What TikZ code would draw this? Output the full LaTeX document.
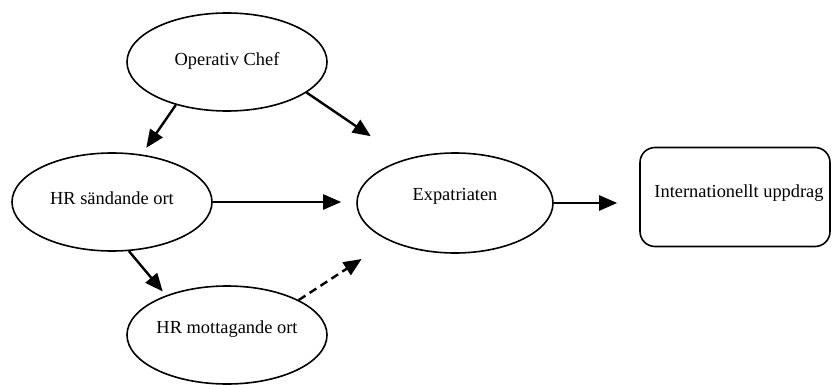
\documentclass[tikz,border=0pt]{standalone}
\usepackage{fontspec}
\setmainfont{Liberation Serif}
\usetikzlibrary{shapes.geometric,arrows.meta,calc}
\begin{document}
\begin{tikzpicture}[x=1pt,y=-1pt,
  ell/.style={ellipse,draw,line width=1.6pt,inner sep=0pt,minimum width=200pt,minimum height=98pt},
  txt/.style={font=\fontsize{18.4}{22}\selectfont,inner sep=0pt},
  arr/.style={line width=2.4pt,-{Triangle[length=18pt,width=15pt]}},
  dasharr/.style={arr,dash pattern=on 8pt off 5pt}
]
\useasboundingbox (0,0) rectangle (832,385);
\node[ell,label={[txt,yshift=1pt]center:Operativ Chef}] (op) at (227,62) {};
\node[ell,label={[txt,yshift=4pt]center:HR sändande ort}] (hrs) at (112,202) {};
\node[ell,minimum width=196pt,minimum height=100pt,label={[txt,yshift=7pt]center:Expatriaten}] (ex) at (455,203) {};
\node[ell,label={[txt,yshift=6pt]center:HR mottagande ort}] (hrm) at (227,335) {};
\node[draw,line width=1.6pt,rounded corners=15pt,minimum width=190pt,minimum height=99pt,inner sep=0pt,
  label={[txt,yshift=4pt,xshift=4pt]center:Internationellt uppdrag}] (box) at (735,197) {};

\draw[arr,shorten >=8pt] (op.220.7) -- (hrs.58.6);
\draw[arr,shorten >=41pt] (op.339.4) -- (ex.139.5);
\draw[arr,shorten >=15pt] (hrs.east) -- (hrs.east -| ex.west);
\draw[arr,shorten >=22pt] (ex.east) -- (ex.east -| box.west);
\draw[arr,shorten >=5pt] (hrs.289.4) -- (hrm.147.1);
\draw[dasharr,shorten >=33pt] (hrm.26.6) -- (ex.210.9);
\end{tikzpicture}
\end{document}
